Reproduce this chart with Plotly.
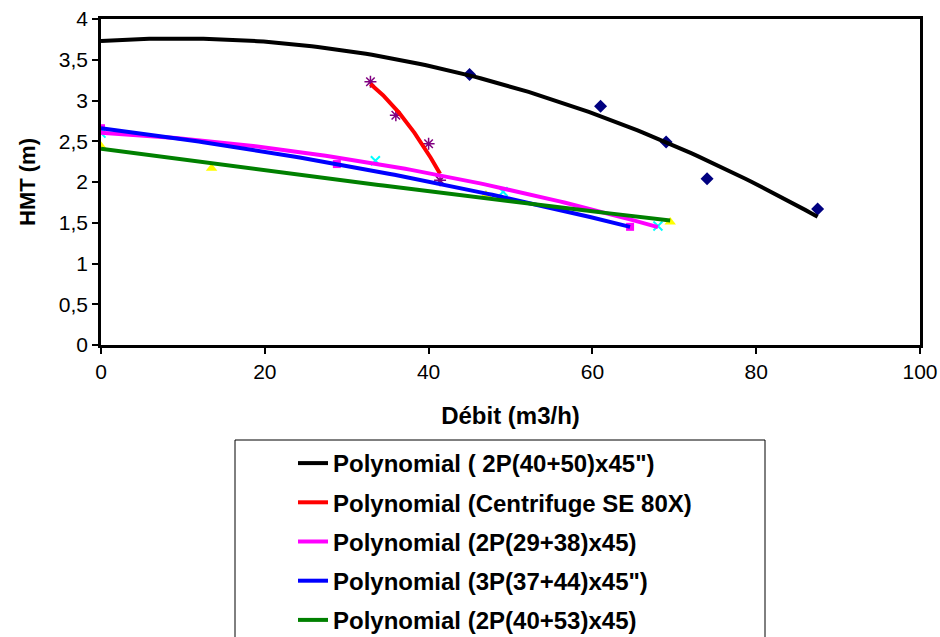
import numpy as np
import plotly.graph_objects as go

# ---- data ----
# series "2P(40+50)x45\"" (navy diamonds, black trendline); first point has no visible marker
x_2p40_50 = [0, 45, 61, 69, 74, 87.5]
y_2p40_50 = [3.72, 3.32, 2.93, 2.49, 2.04, 1.67]
# series "Centrifuge SE 80X" (purple asterisks, red trendline)
x_se80x = [32.9, 36.0, 40.0, 41.4]
y_se80x = [3.23, 2.82, 2.47, 2.02]
# series "3P(37+44)x45\"" (magenta squares, blue trendline)
x_3p37_44 = [0, 28.8, 64.6]
y_3p37_44 = [2.66, 2.22, 1.45]
# series "2P(29+38)x45" (cyan crosses, magenta trendline)
x_2p29_38 = [0, 33.5, 49.1, 68.0]
y_2p29_38 = [2.60, 2.26, 1.88, 1.46]
# series "2P(40+53)x45" (yellow triangles, green trendline)
x_2p40_53 = [0, 13.5, 47.0, 69.5]
y_2p40_53 = [2.44, 2.17, 1.84, 1.51]

x_ticks = [0, 20, 40, 60, 80, 100]
y_ticks = [0, 0.5, 1, 1.5, 2, 2.5, 3, 3.5, 4]

FONT = "Liberation Sans, Arial, sans-serif"

fig = go.Figure()

# marker traces
marker_specs = [
    (x_2p40_50, y_2p40_50, "2P(40+50)x45\"", dict(symbol="diamond", color="#000080", size=10)),
    (x_se80x, y_se80x, "Centrifuge SE 80X", dict(symbol="asterisk-open", color="#800080", size=10,
                                                  line=dict(color="#800080", width=1.5))),
    (x_3p37_44, y_3p37_44, "3P(37+44)x45\"", dict(symbol="square", color="#FF00FF", size=8)),
    (x_2p29_38, y_2p29_38, "2P(29+38)x45", dict(symbol="x-thin-open", color="#00FFFF", size=9,
                                               line=dict(color="#00FFFF", width=2))),
    (x_2p40_53, y_2p40_53, "2P(40+53)x45", dict(symbol="triangle-up", color="#FFFF00", size=10)),
]
for xs, ys, name, mk in marker_specs:
    mk = dict(mk)
    if name.startswith("2P(40+50)"):
        mk["opacity"] = [0 if v == 0 else 1 for v in xs]
    fig.add_trace(go.Scatter(x=xs, y=ys, mode="markers", name=name, marker=mk,
                             showlegend=False, hoverinfo="x+y"))

# polynomial (order 2) trendlines, in legend order
trend_specs = [
    (x_2p40_50, y_2p40_50, "Polynomial ( 2P(40+50)x45\")", "#000000"),
    (x_se80x, y_se80x, "Polynomial (Centrifuge SE 80X)", "#FF0000"),
    (x_2p29_38, y_2p29_38, "Polynomial (2P(29+38)x45)", "#FF00FF"),
    (x_3p37_44, y_3p37_44, "Polynomial (3P(37+44)x45\")", "#0000FF"),
    (x_2p40_53, y_2p40_53, "Polynomial (2P(40+53)x45)", "#008000"),
]
for i, (xs, ys, name, col) in enumerate(trend_specs):
    coef = np.polyfit(xs, ys, 2)
    xx = np.linspace(min(xs), max(xs), 120)
    fig.add_trace(go.Scatter(x=xx, y=np.polyval(coef, xx), mode="lines", name=name,
                             line=dict(color=col, width=4), legendgroup=f"g{i}",
                             hoverinfo="skip"))

W, H = 940, 637
L, R, T, B = 101, 20, 19, 292
pw, ph = W - L - R, H - T - B


def px_x(p):
    return (p - L) / pw


def px_y(p):
    return (H - B - p) / ph


fig.update_layout(
    width=W, height=H,
    margin=dict(l=L, r=R, t=T, b=B, autoexpand=False),
    paper_bgcolor="white", plot_bgcolor="white",
    separators=", ",
    font=dict(family=FONT, color="black", size=21),
    showlegend=True,
    legend=dict(
        x=px_x(293), y=px_y(441), xanchor="left", yanchor="top",
        bgcolor="rgba(0,0,0,0)", borderwidth=0,
        font=dict(family=FONT, size=24, color="black", weight="bold"),
        tracegroupgap=5, itemwidth=30,
    ),
    shapes=[dict(type="rect", xref="paper", yref="paper",
                 x0=px_x(235), x1=px_x(765), y0=px_y(680), y1=px_y(440),
                 line=dict(color="black", width=1), fillcolor="rgba(0,0,0,0)")],
)

fig.update_xaxes(
    range=[0, 100], tickvals=x_ticks, showgrid=False, zeroline=False,
    showline=True, linecolor="black", linewidth=2.5, mirror=True,
    ticks="outside", ticklen=6, tickwidth=2, tickcolor="black",
    tickfont=dict(family=FONT, size=21, color="black"),
    title=dict(text="Débit (m3/h)", standoff=26,
               font=dict(family=FONT, size=24, color="black", weight="bold")),
)
fig.update_yaxes(
    range=[0, 4], tickvals=y_ticks, showgrid=False, zeroline=False,
    showline=True, linecolor="black", linewidth=2.5, mirror=True,
    ticks="outside", ticklen=6, tickwidth=2, tickcolor="black",
    tickfont=dict(family=FONT, size=21, color="black"),
    title=dict(text="HMT (m)", standoff=18,
               font=dict(family=FONT, size=22, color="black", weight="bold")),
)

fig.write_html("out.html")
